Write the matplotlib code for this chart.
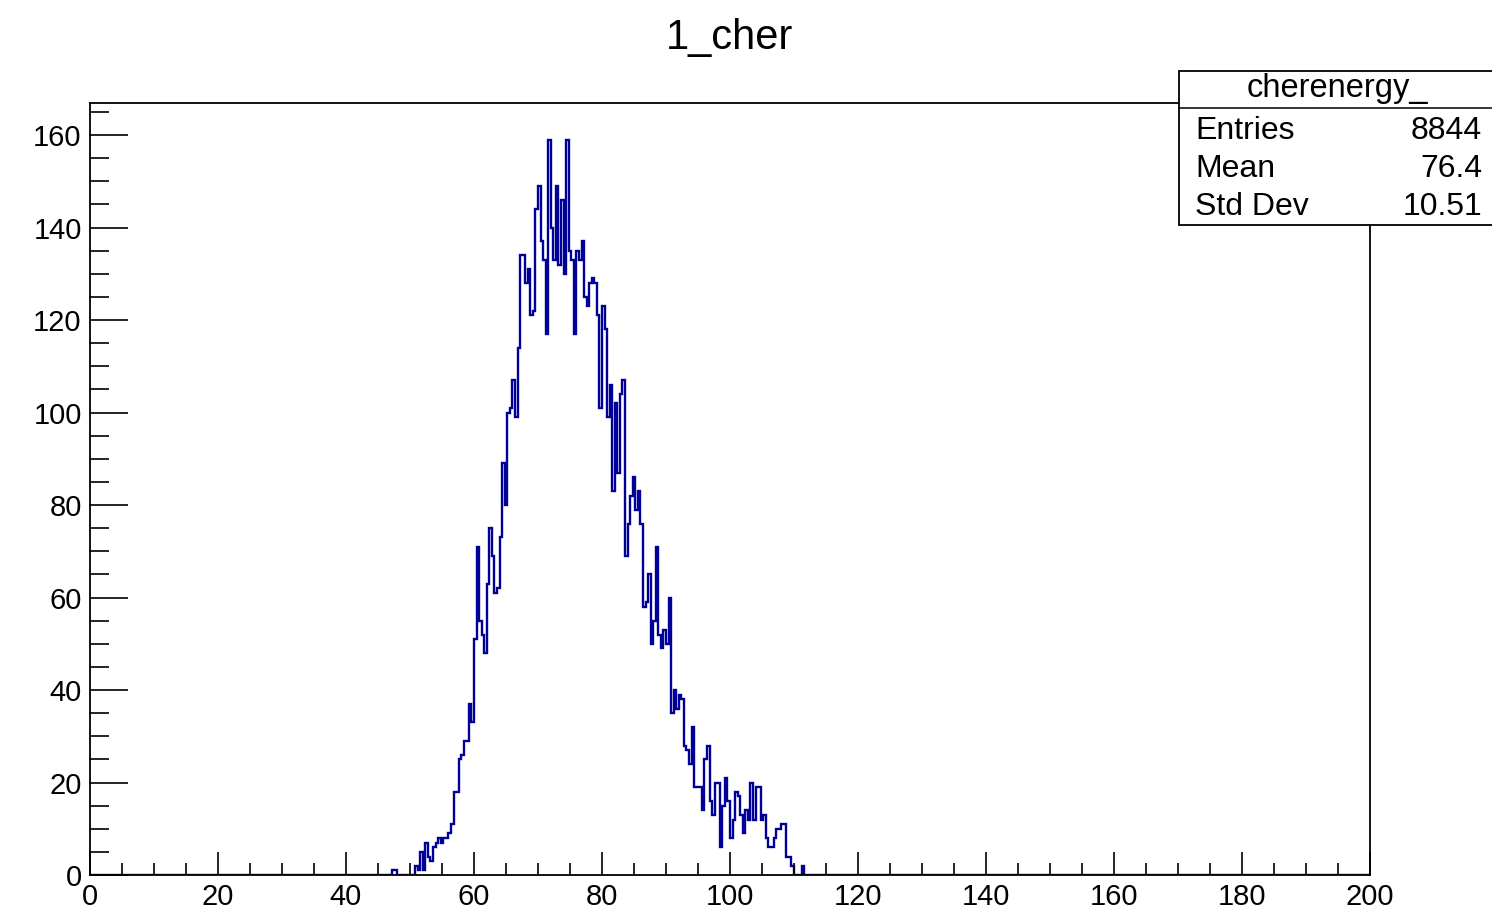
from matplotlib import pyplot as plt
from matplotlib.patches import Rectangle
from matplotlib.lines import Line2D
import numpy as np

plt.rcParams['font.family'] = ['Liberation Sans', 'DejaVu Sans']

# histogram: 500 bins over 0..200 (width 0.4), nonzero part starts at x = 47.2
n_bins = 500
x_min, x_max = 0.0, 200.0
first_bin = 118
counts_read = [
    1, 1, 0, 0, 0, 0, 0, 0, 0, 2,
    1, 5, 1, 7, 4, 3, 6, 7, 8, 7,
    8, 8, 9, 11, 18, 18, 25, 26, 29, 29,
    37, 33, 51, 71, 55, 52, 48, 63, 75, 69,
    61, 62, 73, 89, 80, 100, 101, 107, 99, 114,
    134, 134, 128, 131, 121, 122, 144, 149, 137, 133,
    117, 159, 140, 133, 149, 132, 146, 130, 159, 135,
    133, 117, 135, 133, 137, 125, 123, 128, 129, 128,
    121, 101, 123, 118, 99, 106, 83, 102, 87, 104,
    107, 69, 76, 82, 86, 79, 83, 76, 58, 59,
    65, 50, 55, 71, 52, 49, 53, 50, 60, 35,
    40, 36, 39, 38, 28, 27, 24, 32, 19, 19,
    19, 14, 25, 28, 16, 13, 20, 20, 6, 15,
    21, 16, 8, 12, 18, 17, 13, 9, 14, 12,
    20, 12, 19, 19, 12, 13, 8, 6, 6, 8,
    10, 10, 11, 11, 4, 4, 2, 0, 0, 0,
    2,
]

title = "1_cher"
stats_name = "cherenergy_"
stats_labels = ["Entries", "Mean", "Std Dev"]
stats_values = ["8844", "76.4", "10.51"]

x_ticks = list(range(0, 201, 20))
y_ticks = list(range(0, 161, 20))


def main():
    edges = np.linspace(x_min, x_max, n_bins + 1)
    counts = np.zeros(n_bins)
    counts[first_bin:first_bin + len(counts_read)] = counts_read

    W, H = 1492, 915
    fig = plt.figure(figsize=(W / 100, H / 100), dpi=100)
    ax = fig.add_axes([90 / W, 1 - 875 / H, 1280 / W, 772 / H])

    ax.stairs(counts, edges, color='#000099', linewidth=1.7)

    ax.set_xlim(x_min, x_max)
    ax.set_ylim(0, 1.05 * counts.max())
    ax.set_xticks(x_ticks)
    ax.set_yticks(y_ticks)
    ax.set_xticks(np.arange(0, 201, 5), minor=True)
    ax.set_yticks(np.arange(0, 166, 5), minor=True)

    ax.tick_params(which='both', direction='in', top=False, right=False,
                   width=1.2, color='black', labelsize=21)
    ax.tick_params(axis='x', which='major', length=16.5, pad=6)
    ax.tick_params(axis='x', which='minor', length=8.5)
    ax.tick_params(axis='y', which='major', length=27, pad=6)
    ax.tick_params(axis='y', which='minor', length=13.5)

    for sp in ax.spines.values():
        sp.set_linewidth(1.3)

    fig.text(730 / W, 1 - 38 / H, title, ha='center', va='center', fontsize=30)

    # stats box (runs off the right edge like the original)
    bx0, by0, by1 = 1179 / W, 1 - 225 / H, 1 - 71 / H
    fig.add_artist(Rectangle((bx0, by0), 1.05 - bx0, by1 - by0,
                             transform=fig.transFigure, facecolor='white',
                             edgecolor='black', linewidth=1.3, zorder=5))
    sep_y = 1 - 108 / H
    fig.add_artist(Line2D([bx0, 1.0], [sep_y, sep_y], transform=fig.transFigure,
                          color='black', linewidth=1.1, zorder=6))
    fig.text(1337 / W, 1 - 89 / H, stats_name, ha='center', va='center',
             fontsize=23.5, zorder=7)
    for i, (lab, val) in enumerate(zip(stats_labels, stats_values)):
        yy = 1 - (131 + 38 * i) / H
        fig.text(1195 / W, yy, lab, ha='left', va='center', fontsize=23, zorder=7)
        fig.text(1482 / W, yy, val, ha='right', va='center', fontsize=23, zorder=7)

    fig.savefig("out.png", dpi=100)


if __name__ == "__main__":
    main()
